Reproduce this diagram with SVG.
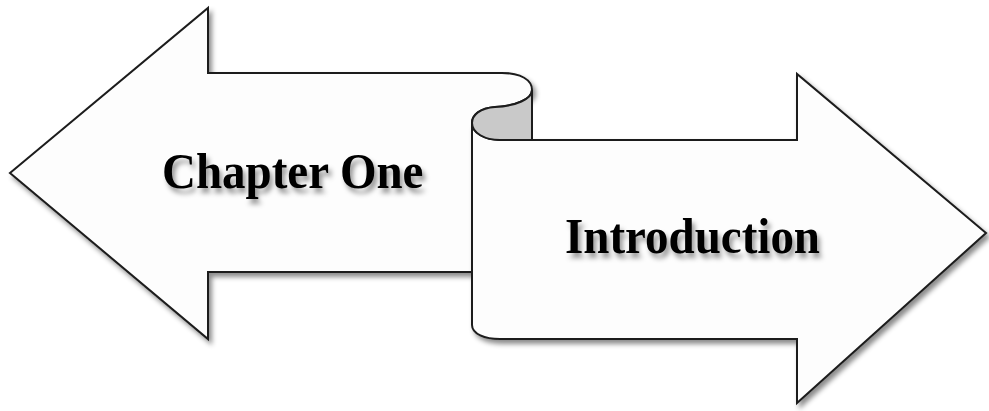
<svg xmlns="http://www.w3.org/2000/svg" width="989" height="411" viewBox="0 0 989 411">
  <defs>
    <filter id="shadow" x="-10%" y="-10%" width="130%" height="130%">
      <feDropShadow dx="3" dy="4" stdDeviation="2.5" flood-color="#000" flood-opacity="0.45"/>
    </filter>
    <filter id="textShadow" x="-10%" y="-20%" width="130%" height="160%">
      <feDropShadow dx="3" dy="5" stdDeviation="2.5" flood-color="#000" flood-opacity="0.4"/>
    </filter>
  </defs>
  <style>
    .shape { fill: #fdfdfd; stroke: #1c1c1c; stroke-width: 2; stroke-linejoin: miter; }
    .fold { fill: #c9c9c9; stroke: #1c1c1c; stroke-width: 2; }
    .label { font-family: "Liberation Serif", "Times New Roman", serif; font-weight: bold; font-size: 47px; fill: #000; }
  </style>
  <rect width="989" height="411" fill="#fff"/>

  <!-- left-pointing arrow, its shaft curling over at the right end -->
  <g id="left-arrow" filter="url(#shadow)">
    <path class="shape" d="M10,173 L208,8 L208,73 L502,73 C521,73 532,80 532,90 C532,99 516,106 495,107 C480,108 472,115 472,123 L472,272 L208,272 L208,339 Z"/>
  </g>

  <!-- right-pointing arrow rising out of the scroll -->
  <g id="right-arrow" filter="url(#shadow)">
    <path class="shape" d="M472,123 C472,133 485,140 500,140 L797,140 L797,74 L986,233 L797,403 L797,339 L500,339 C485,339 472,334 472,325 Z"/>
  </g>

  <!-- back face of the curl -->
  <g id="curl">
    <path class="fold" d="M472,123 C472,115 480,108 495,107 C516,106 532,99 532,90 L532,140 L500,140 C485,140 472,133 472,123 Z"/>
  </g>

  <g id="labels" filter="url(#textShadow)">
    <text class="label" transform="translate(162,188) scale(1,1.1)">Chapter One</text>
    <text class="label" transform="translate(565,253) scale(1,1.1)">Introduction</text>
  </g>
</svg>
